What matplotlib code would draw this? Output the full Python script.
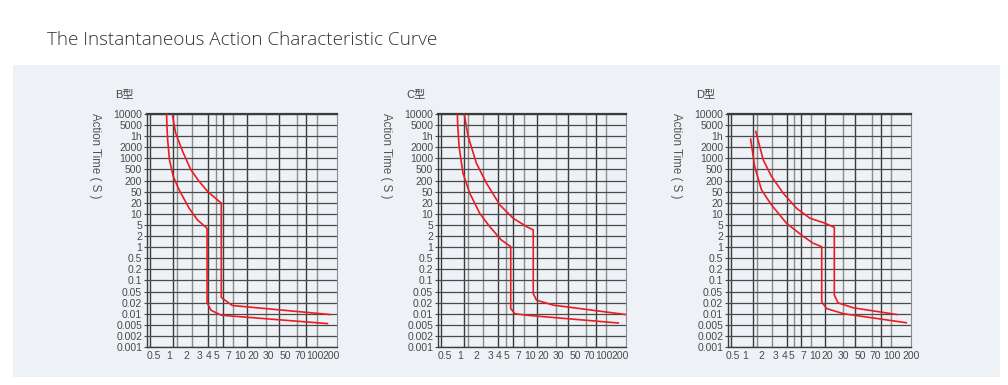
import numpy as np
import matplotlib
matplotlib.use("Agg")
import matplotlib.pyplot as plt
from matplotlib.patches import Rectangle

# y axis: evenly spaced rows, labelled with these times (seconds)
y_vals = [0.001, 0.002, 0.005, 0.01, 0.02, 0.05, 0.1, 0.2, 0.5, 1, 2, 5, 10, 20,
          50, 200, 500, 1000, 2000, 3600, 5000, 10000]
y_labels = ["0.001", "0.002", "0.005", "0.01", "0.02", "0.05", "0.1", "0.2", "0.5",
            "1", "2", "5", "10", "20", "50", "200", "500", "1000", "2000", "1h",
            "5000", "10000"]

# x axis: multiples of rated current
x_vals = [0.5, 1, 2, 3, 4, 5, 7, 10, 20, 30, 50, 70, 100, 200]
x_labels = ["0.5", "1", "2", "3", "4", "5", "7", "10", "20", "30", "50", "70", "100", "200"]

# B type
b_low_x = [0.886, 0.90, 0.93, 1.01, 1.18, 1.50, 2.19, 2.80, 3.83, 3.83, 4.30, 5.75, 170]
b_low_y = [10000, 5000, 2980, 914, 281, 62.4, 14.1, 6.83, 3.79, 0.020, 0.0124, 0.0091, 0.0054]
b_up_x = [1.15, 1.30, 1.73, 2.30, 2.95, 3.92, 5.75, 5.75, 7.94, 190]
b_up_y = [8645, 3946, 1548, 486, 176, 50.3, 19.5, 0.0305, 0.0167, 0.0095]

# C type
c_low_x = [0.886, 0.90, 0.958, 1.13, 1.50, 2.19, 2.95, 4.30, 5.62, 5.62, 6.36, 8.96, 183]
c_low_y = [10000, 5000, 2094, 370, 43.7, 10.3, 4.36, 1.56, 1.03, 0.0138, 0.0100, 0.0091, 0.0056]
c_up_x = [1.19, 1.40, 1.97, 2.68, 4.13, 6.05, 8.96, 11.7, 11.7, 13.9, 26.1, 250]
c_up_y = [10000, 3565, 742, 143, 17.4, 7.58, 4.36, 3.31, 0.0424, 0.0245, 0.0171, 0.0095]

# D type
d_low_x = [1.28, 1.51, 2.0, 2.66, 4.28, 7.0, 9.42, 14.3, 14.3, 18.8, 30, 168]
d_low_y = [3088, 603, 62.4, 17.4, 5.55, 1.96, 1.27, 1.03, 0.0213, 0.0138, 0.0100, 0.0057]
d_up_x = [1.58, 2.10, 2.66, 3.88, 5.76, 8.55, 15.7, 23.7, 23.7, 26.1, 40.9, 119.7]
d_up_y = [4135, 914, 281, 43.7, 14.1, 7.58, 5.79, 4.12, 0.037, 0.0197, 0.0144, 0.0095]

# layout: where the x ticks sit along each panel (axes fraction)
frac_bc = [0.037, 0.117, 0.206, 0.278, 0.323, 0.366, 0.426, 0.491, 0.560, 0.641,
           0.729, 0.806, 0.883, 0.970]
frac_d = [0.027, 0.091, 0.183, 0.261, 0.307, 0.349, 0.411, 0.477, 0.545, 0.631,
          0.722, 0.804, 0.896, 1.0]
vgrid = [0.015, 0.138, 0.160, 0.239, 0.321, 0.362, 0.398, 0.455, 0.528, 0.627,
         0.693, 0.789, 0.838, 0.893]
dark, grey = "#3c3c3c", "#8c8c8c"
vgrid_col = [dark, dark, grey, grey, dark, grey, dark, grey, dark, grey, dark, grey, dark, grey]

W, H = 1008, 385
fig = plt.figure(figsize=(W / 100, H / 100), dpi=100)
fig.patch.set_facecolor("white")
bg = "#eef1f5"
fig.patches.append(Rectangle((13 / W, 1 - 377 / H), 987 / W, 312 / H,
                             transform=fig.transFigure, facecolor=bg, edgecolor="none", zorder=-5))

fig.text(47 / W, 1 - 40 / H, "The Instantaneous Action Characteristic Curve",
         family="Open Sans", fontweight="light", fontsize=13.6, color="#333333", va="center")

red = "#ec1c24"
fontf = ["Liberation Sans", "Noto Sans CJK SC"]


def x_scale(fracs):
    lv = np.log10(x_vals)
    # extend both ends so the scale is defined across the whole panel
    s0 = (fracs[1] - fracs[0]) / (lv[1] - lv[0])
    s1 = (fracs[-1] - fracs[-2]) / (lv[-1] - lv[-2])
    lv = np.concatenate([[lv[0] - 1], lv, [lv[-1] + 1]])
    ff = np.concatenate([[fracs[0] - s0], fracs, [fracs[-1] + s1]])
    fwd = lambda v: np.interp(np.log10(np.clip(v, 1e-6, None)), lv, ff)
    inv = lambda f: 10 ** np.interp(f, ff, lv)
    return fwd, inv


ly = np.log10(y_vals)
idx = np.arange(len(y_vals), dtype=float)
y_fwd = lambda v: np.interp(np.log10(np.clip(v, 1e-9, None)), ly, idx)
y_inv = lambda i: 10 ** np.interp(i, idx, ly)

panels = [
    ("B型", 147, 337, frac_bc, [(b_low_x, b_low_y), (b_up_x, b_up_y)]),
    ("C型", 438, 626, frac_bc, [(c_low_x, c_low_y), (c_up_x, c_up_y)]),
    ("D型", 728, 911, frac_d, [(d_low_x, d_low_y), (d_up_x, d_up_y)]),
]

for name, left, right, fracs, curves in panels:
    ax = fig.add_axes([left / W, 1 - 347 / H, (right - left) / W, 233 / H])
    ax.set_facecolor(bg)
    fwd, inv = x_scale(np.array(fracs))
    ax.set_xscale("function", functions=(fwd, inv))
    ax.set_yscale("function", functions=(y_fwd, y_inv))
    ax.set_xlim(inv(0.0), inv(1.0))
    ax.set_ylim(y_vals[0], y_vals[-1])
    ax.set_xticks(x_vals, x_labels)
    ax.set_yticks(y_vals, y_labels)
    ax.minorticks_off()
    ax.tick_params(axis="both", labelsize=7.5, colors="#4a4a4a", length=2, width=0.8, pad=1.5)
    ax.tick_params(axis="x", length=0, pad=3)
    for lab in ax.get_xticklabels() + ax.get_yticklabels():
        lab.set_family(fontf)
    ax.grid(axis="y", color="#4a4a4a", lw=0.9)
    for f, c in zip(vgrid, vgrid_col):
        ax.plot([f, f], [0, 1], transform=ax.transAxes, color=c, lw=1.0, zorder=1)
    for sp in ["left", "top", "bottom"]:
        ax.spines[sp].set_color(dark)
        ax.spines[sp].set_linewidth(1.0)
    ax.spines["right"].set_color(grey)
    ax.spines["top"].set_linewidth(1.6)
    for cx, cy in curves:
        ax.plot(cx, cy, color=red, lw=1.2, zorder=3)

    fig.text((left - 32) / W, 1 - 94 / H, name, family=fontf, fontsize=8,
             color="#444444", va="center", ha="left")
    fig.text((left - 52) / W, 1 - 113 / H, "Action Time ( S )", family=fontf,
             fontsize=8.3, color="#555555", rotation=270, va="top", ha="center")

fig.savefig("out.png", dpi=100, facecolor="white")
